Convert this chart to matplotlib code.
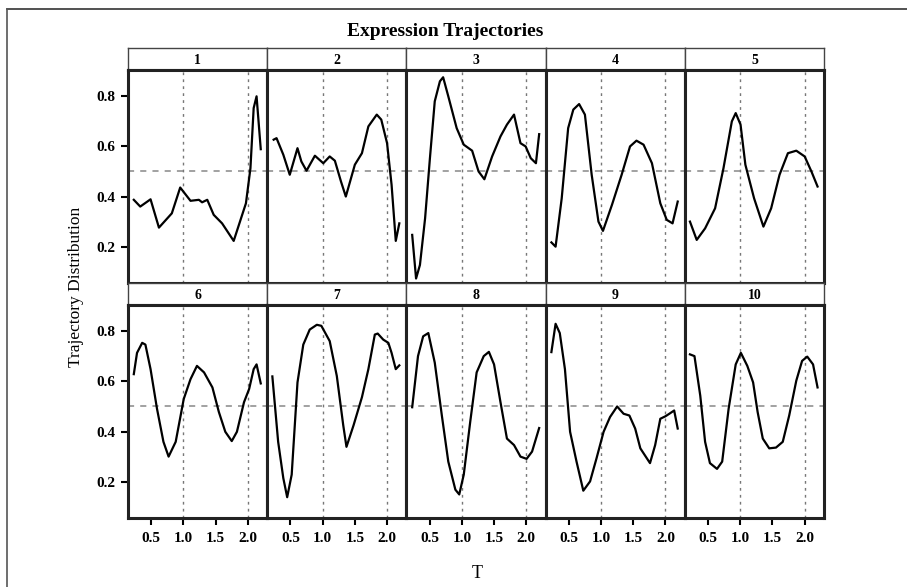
import matplotlib
matplotlib.use("Agg")
import matplotlib.pyplot as plt
from matplotlib.lines import Line2D

plt.rcParams['font.family'] = ['Liberation Serif', 'DejaVu Serif']

# ==========================================
# data (T, trajectory value) per cluster
# ==========================================
t1 = [0.23, 0.33, 0.49, 0.62, 0.82, 0.95, 1.11, 1.24, 1.29, 1.37, 1.47, 1.60, 1.78, 1.97, 2.04, 2.09, 2.135, 2.20]
v1 = [0.387, 0.36, 0.389, 0.276, 0.333, 0.436, 0.383, 0.387, 0.377, 0.387, 0.327, 0.293, 0.223, 0.373, 0.513, 0.753, 0.80, 0.589]

t2 = [0.24, 0.285, 0.39, 0.49, 0.61, 0.67, 0.75, 0.88, 1.01, 1.11, 1.19, 1.285, 1.36, 1.50, 1.61, 1.71, 1.84, 1.91, 2.00, 2.07, 2.135, 2.19]
v2 = [0.627, 0.633, 0.567, 0.487, 0.593, 0.54, 0.503, 0.563, 0.533, 0.56, 0.543, 0.46, 0.40, 0.527, 0.573, 0.68, 0.727, 0.707, 0.613, 0.447, 0.223, 0.293]

t3 = [0.23, 0.29, 0.35, 0.43, 0.505, 0.58, 0.66, 0.71, 0.79, 0.92, 1.03, 1.16, 1.26, 1.35, 1.47, 1.60, 1.70, 1.81, 1.91, 1.99, 2.07, 2.15, 2.20]
v3 = [0.247, 0.073, 0.127, 0.313, 0.553, 0.78, 0.86, 0.876, 0.80, 0.673, 0.607, 0.583, 0.50, 0.469, 0.56, 0.64, 0.687, 0.727, 0.613, 0.60, 0.553, 0.533, 0.649]

t4 = [0.23, 0.295, 0.39, 0.49, 0.57, 0.66, 0.75, 0.855, 0.96, 1.03, 1.17, 1.32, 1.45, 1.55, 1.66, 1.79, 1.92, 2.02, 2.11, 2.19]
v4 = [0.217, 0.20, 0.393, 0.673, 0.747, 0.769, 0.727, 0.487, 0.30, 0.263, 0.367, 0.487, 0.60, 0.623, 0.607, 0.533, 0.373, 0.307, 0.293, 0.38]

t5 = [0.22, 0.325, 0.455, 0.61, 0.74, 0.87, 0.93, 1.005, 1.08, 1.215, 1.36, 1.48, 1.61, 1.74, 1.87, 2.00, 2.105, 2.20]
v5 = [0.30, 0.227, 0.273, 0.353, 0.513, 0.70, 0.733, 0.687, 0.527, 0.393, 0.28, 0.353, 0.487, 0.573, 0.583, 0.56, 0.50, 0.44]

t6 = [0.23, 0.28, 0.36, 0.41, 0.49, 0.59, 0.69, 0.77, 0.88, 1.005, 1.11, 1.21, 1.32, 1.45, 1.55, 1.65, 1.75, 1.83, 1.94, 2.02, 2.09, 2.135, 2.20]
v6 = [0.629, 0.714, 0.754, 0.747, 0.649, 0.491, 0.359, 0.30, 0.359, 0.53, 0.609, 0.662, 0.636, 0.576, 0.478, 0.399, 0.362, 0.399, 0.517, 0.57, 0.649, 0.668, 0.592]

t7 = [0.22, 0.31, 0.39, 0.45, 0.52, 0.61, 0.70, 0.80, 0.91, 0.98, 1.11, 1.22, 1.32, 1.37, 1.48, 1.61, 1.71, 1.81, 1.855, 1.94, 2.02, 2.07, 2.135, 2.19]
v7 = [0.62, 0.359, 0.214, 0.138, 0.228, 0.596, 0.747, 0.807, 0.826, 0.822, 0.761, 0.622, 0.425, 0.339, 0.425, 0.537, 0.649, 0.787, 0.791, 0.767, 0.754, 0.714, 0.649, 0.664]

t8 = [0.23, 0.32, 0.40, 0.48, 0.58, 0.69, 0.79, 0.90, 0.96, 1.03, 1.13, 1.23, 1.34, 1.42, 1.50, 1.60, 1.70, 1.81, 1.91, 2.005, 2.09, 2.20]
v8 = [0.497, 0.701, 0.78, 0.793, 0.675, 0.464, 0.28, 0.168, 0.149, 0.228, 0.438, 0.636, 0.701, 0.718, 0.668, 0.517, 0.372, 0.346, 0.30, 0.291, 0.32, 0.414]

t9 = [0.23, 0.295, 0.36, 0.44, 0.52, 0.62, 0.725, 0.83, 0.93, 1.04, 1.14, 1.25, 1.35, 1.44, 1.53, 1.61, 1.76, 1.84, 1.92, 2.00, 2.06, 2.135, 2.19]
v9 = [0.717, 0.83, 0.793, 0.649, 0.399, 0.28, 0.164, 0.201, 0.293, 0.399, 0.458, 0.50, 0.471, 0.464, 0.412, 0.333, 0.274, 0.346, 0.451, 0.461, 0.471, 0.484, 0.412]

t10 = [0.22, 0.29, 0.38, 0.455, 0.53, 0.64, 0.72, 0.82, 0.93, 1.01, 1.11, 1.20, 1.27, 1.35, 1.45, 1.555, 1.66, 1.76, 1.87, 1.96, 2.04, 2.13, 2.20]
v10 = [0.708, 0.701, 0.543, 0.359, 0.274, 0.251, 0.28, 0.491, 0.668, 0.714, 0.662, 0.596, 0.478, 0.372, 0.333, 0.336, 0.359, 0.464, 0.603, 0.682, 0.699, 0.668, 0.576]

panel_labels = ['1', '2', '3', '4', '5', '6', '7', '8', '9', '10']
x_ticks = [0.5, 1.0, 1.5, 2.0]
y_ticks = [0.2, 0.4, 0.6, 0.8]

all_t = [t1, t2, t3, t4, t5, t6, t7, t8, t9, t10]
all_v = [v1, v2, v3, v4, v5, v6, v7, v8, v9, v10]

# ==========================================
# layout (pixel positions of the original picture)
# ==========================================
W, H = 907, 587
fig = plt.figure(figsize=(W / 100, H / 100), dpi=100)

left0 = 128 / W
pw = 139.2 / W
ph = 213 / H
sh = 22 / H
row_bottom = [1 - 283 / H, 1 - 518 / H]

for i in range(10):
    row, col = i // 5, i % 5
    x0 = left0 + col * pw
    y0 = row_bottom[row]

    # strip with the cluster number
    sax = fig.add_axes([x0, y0 + ph, pw, sh])
    sax.set_xticks([])
    sax.set_yticks([])
    for s in ['left', 'right', 'top']:
        sax.spines[s].set_linewidth(1.0)
        sax.spines[s].set_color('#444444')
    sax.spines['bottom'].set_linewidth(2.2)
    sax.text(0.5, 0.45, panel_labels[i], ha='center', va='center',
             fontsize=10, fontweight='bold', transform=sax.transAxes)

    # panel
    ax = fig.add_axes([x0, y0, pw, ph])
    ax.axhline(0.5, color='#888888', ls=(0, (4, 4)), lw=1.1)
    for xv in [1.0, 2.0]:
        ax.axvline(xv, color='#777777', ls=(0, (2, 3)), lw=1.0)
    ax.plot(all_t[i], all_v[i], color='black', lw=1.6, solid_joinstyle='round')
    ax.set_xlim(0.14, 2.30)
    ax.set_ylim(0.055, 0.905)
    for s in ax.spines.values():
        s.set_linewidth(2.2)
        s.set_color('#222222')

    ax.set_xticks(x_ticks)
    ax.set_xticklabels([f"{x:.1f}" for x in x_ticks])
    ax.set_yticks(y_ticks)
    ax.set_yticklabels([f"{y:.1f}" for y in y_ticks])
    ax.tick_params(direction='out', length=5, width=1.5, labelsize=11)
    for lab in ax.get_xticklabels() + ax.get_yticklabels():
        lab.set_fontweight('bold')
    ax.tick_params(axis='x', pad=5, bottom=(row == 1), labelbottom=(row == 1))
    ax.tick_params(axis='y', pad=4, left=(col == 0), labelleft=(col == 0))

# titles
fig.text(445 / W, 1 - 32 / H, 'Expression Trajectories', ha='center', va='center',
         fontsize=14, fontweight='bold')
fig.text(76 / W, 1 - 287 / H, 'Trajectory Distribution', ha='center', va='center',
         rotation=90, fontsize=12.5)
fig.text(477 / W, 1 - 573 / H, 'T', ha='center', va='center', fontsize=13)

# frame of the original picture (top and left edges)
fig.add_artist(Line2D([7 / W, 1], [1 - 9 / H, 1 - 9 / H], color='#333333', lw=1.2))
fig.add_artist(Line2D([7 / W, 7 / W], [0, 1 - 9 / H], color='#555555', lw=1.2))

fig.savefig('out.png', dpi=100)
